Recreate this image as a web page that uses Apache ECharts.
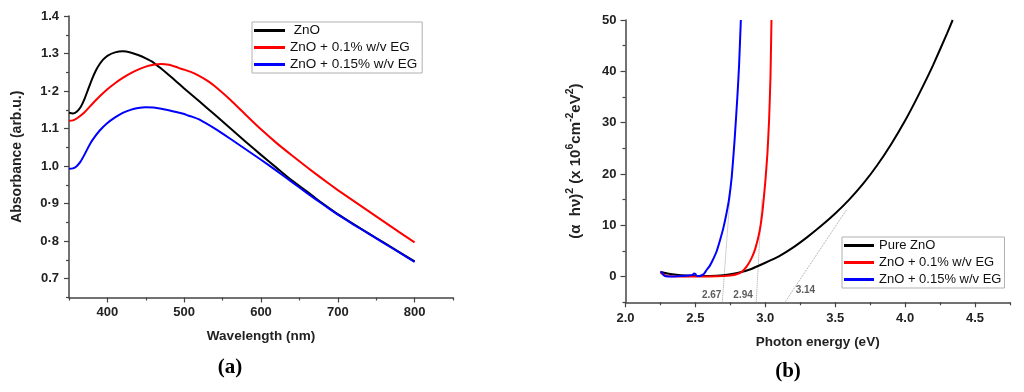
<!DOCTYPE html>
<html><head><meta charset="utf-8">
<script src="https://cdn.jsdelivr.net/npm/echarts@6/dist/echarts.min.js"></script>
<style>html,body{margin:0;padding:0;background:#fff}#c{width:1024px;height:392px}</style>
</head><body><div id="c"></div>
<script>
// ---------- Panel (a): absorbance vs wavelength ----------
const aZnO_x = [350,355,360,365,370,375,380,385,390,395,400,410,420,430,440,450,460,470,480,490,500,520,540,560,580,600,620,640,660,670,680,700,720,740,760,780,800];
const aZnO_y = [1.142,1.140,1.145,1.157,1.178,1.205,1.232,1.255,1.272,1.285,1.294,1.303,1.306,1.303,1.296,1.287,1.276,1.260,1.243,1.225,1.207,1.172,1.137,1.101,1.065,1.030,0.996,0.962,0.932,0.916,0.901,0.872,0.846,0.821,0.796,0.771,0.746];
const aEG1_x = [350,355,360,370,380,390,400,410,420,430,440,450,460,470,480,490,495,500,510,520,530,540,560,580,600,620,640,660,680,700,720,740,760,780,800];
const aEG1_y = [1.121,1.122,1.127,1.143,1.165,1.186,1.205,1.221,1.235,1.247,1.257,1.265,1.270,1.272,1.270,1.264,1.260,1.257,1.250,1.240,1.228,1.213,1.177,1.137,1.098,1.062,1.029,0.997,0.966,0.936,0.908,0.880,0.852,0.824,0.797];
const aEG2_x = [350,355,360,365,370,375,380,390,400,410,420,430,440,450,460,470,480,490,500,505,510,520,540,560,580,600,620,640,660,680,700,720,740,760,780,800];
const aEG2_y = [0.993,0.994,1.000,1.012,1.030,1.050,1.068,1.095,1.115,1.130,1.142,1.150,1.155,1.157,1.156,1.153,1.149,1.144,1.139,1.135,1.132,1.124,1.100,1.073,1.045,1.017,0.988,0.958,0.928,0.899,0.871,0.845,0.820,0.795,0.770,0.745];
const aXTicks = [400,500,600,700,800];
const aXMinor = [350,450,550,650,750,850];
const aYTicks = [0.7,0.8,0.9,1.0,1.1,1.2,1.3,1.4];
const aYTickLabels = ['0.7','0·8','0·9','1.0','1.1','1·2','1.3','1.4'];
const aYMinor = [0.65,0.75,0.85,0.95,1.05,1.15,1.25,1.35];
const aNames = ['ZnO','ZnO + 0.1% w/v EG','ZnO + 0.15% w/v EG'];

// ---------- Panel (b): Tauc plot ----------
const bZnO_x = [2.25,2.3,2.35,2.4,2.5,2.6,2.7,2.8,2.9,3.0,3.1,3.2,3.3,3.4,3.5,3.6,3.7,3.8,3.9,4.0,4.1,4.2,4.3,4.34];
const bZnO_y = [0.9,0.6,0.4,0.25,0.1,0.1,0.25,0.7,1.5,2.7,4.0,5.7,7.7,9.9,12.3,15.0,18.1,21.7,25.8,30.4,35.6,41.2,47.4,50];
const bEG1_x = [2.25,2.26,2.28,2.3,2.4,2.5,2.6,2.7,2.75,2.8,2.83,2.866,2.9,2.93,2.96,2.98,3.0,3.015,3.027,3.037,3.044];
const bEG1_y = [0.8,0.6,0.3,0.1,0.05,0.05,0.05,0.1,0.2,0.5,0.9,1.95,3.5,5.6,9.0,12.8,18.5,24,30.5,39,50];
const bEG2_x = [2.25,2.26,2.27,2.28,2.3,2.35,2.4,2.45,2.48,2.49,2.5,2.51,2.53,2.56,2.58,2.6,2.62,2.65,2.675,2.7,2.72,2.74,2.76,2.78,2.8,2.812,2.825];
const bEG2_y = [1.0,0.8,0.4,0.15,0.05,0.05,0.1,0.2,0.35,0.6,0.5,0.1,0.1,0.5,1.3,2.0,3.0,4.8,7.0,9.5,12.0,15.0,19.5,26.5,35,41,50];
const bTangentBlue = [[2.692,-5],[2.75,16.6]];
const bTangentRed = [[2.935,-5],[2.975,15]];
const bTangentBlack = [[3.14,-5],[3.58,13]];
const bGapLabels = ['2.67','2.94','3.14'];
const bGapLabelPos = [[2.616,-3.7],[2.841,-3.7],[3.287,-2.7]];
const bXTicks = [2.0,2.5,3.0,3.5,4.0,4.5];
const bXMinor = [2.25,2.75,3.25,3.75,4.25,4.75];
const bYTicks = [0,10,20,30,40,50];
const bYMinor = [-5,5,15,25,35,45];
const bNames = ['Pure ZnO','ZnO + 0.1% w/v EG','ZnO + 0.15% w/v EG'];

const colors = ['#000000','#ff0000','#0000ff'];
const zip = (xs, ys) => xs.map((x, i) => [x, ys[i]]);

const axisCol = '#444';
const FF = 'Liberation Sans, Arial, sans-serif';
const lblFont = {fontFamily:FF, fontWeight:'bold', fontSize:13, color:'#222'};

function majorX(grid, min, max, ticks, fmt, name, nameGap, margin) {
  return {type:'value', gridIndex:grid, min, max, position:'bottom',
    axisLine:{show:true, onZero:false, lineStyle:{color:axisCol, width:1.5}},
    axisTick:{show:true, customValues:ticks, length:5, lineStyle:{color:axisCol, width:1.2}},
    axisLabel:Object.assign({show:true, customValues:ticks, margin, formatter:fmt}, lblFont),
    splitLine:{show:false}, name, nameLocation:'middle', nameGap,
    nameTextStyle:Object.assign({}, lblFont, {fontSize:13.5})};
}
function minorX(grid, min, max, ticks) {
  return {type:'value', gridIndex:grid, min, max, position:'bottom', offset:0,
    axisLine:{show:false, onZero:false}, axisLabel:{show:false}, splitLine:{show:false},
    axisTick:{show:true, customValues:ticks, length:3, lineStyle:{color:axisCol, width:1.2}}};
}
function majorY(grid, min, max, ticks, fmt, name, nameGap, margin, nts) {
  return {type:'value', gridIndex:grid, min, max, position:'left',
    axisLine:{show:true, onZero:false, lineStyle:{color:axisCol, width:1.5}},
    axisTick:{show:true, customValues:ticks, length:5, lineStyle:{color:axisCol, width:1.2}},
    axisLabel:Object.assign({show:true, customValues:ticks, margin, formatter:fmt}, lblFont),
    splitLine:{show:false}, name, nameLocation:'middle', nameGap,
    nameTextStyle:nts};
}
function minorY(grid, min, max, ticks) {
  return {type:'value', gridIndex:grid, min, max, position:'left', offset:0,
    axisLine:{show:false, onZero:false}, axisLabel:{show:false}, splitLine:{show:false},
    axisTick:{show:true, customValues:ticks, length:3, lineStyle:{color:axisCol, width:1.2}}};
}

const supName = '{n|(α  hν)}{s|2}{n| (x 10}{s|6}{n|cm}{s|-2}{n|eV}{s|2}{n|)}';

const lineSeries = (name, xi, yi, data, color) => ({
  type:'line', name, xAxisIndex:xi, yAxisIndex:yi, data, showSymbol:false, symbol:'none',
  lineStyle:{color, width:2}, itemStyle:{color}, smooth:0.15,
  animation:false, silent:true, z:3
});
const tangent = (xi, yi, data) => ({
  type:'line', xAxisIndex:xi, yAxisIndex:yi, data, symbol:'none', silent:true, animation:false,
  lineStyle:{color:'#a0a0a0', width:1, type:'dotted'}, z:2
});

const option = {
  animation:false,
  backgroundColor:'#fff',
  grid:[
    {left:69, top:16, width:384, height:281.5},
    {left:625.5, top:20, width:384.5, height:282.3}
  ],
  xAxis:[
    majorX(0, 350, 850, aXTicks, v => String(v), 'Wavelength (nm)', 32, 8),
    minorX(0, 350, 850, aXMinor),
    majorX(1, 2.0, 4.75, bXTicks, v => v.toFixed(1), 'Photon energy (eV)', 33, 10),
    minorX(1, 2.0, 4.75, bXMinor)
  ],
  yAxis:[
    majorY(0, 0.65, 1.4, aYTicks, v => aYTickLabels[aYTicks.findIndex(t => Math.abs(t - v) < 1e-6)],
      'Absorbance (arb.u.)', 45, 10, Object.assign({}, lblFont, {fontSize:14})),
    minorY(0, 0.65, 1.4, aYMinor),
    majorY(1, -5, 50, bYTicks, v => String(v), supName, 39, 9, {
      rich:{
        n:{fontFamily:FF, fontWeight:'bold', fontSize:15, color:'#222', lineHeight:22},
        s:{fontFamily:FF, fontWeight:'bold', fontSize:10.5, color:'#222', lineHeight:11, verticalAlign:'top'}
      }}),
    minorY(1, -5, 50, bYMinor)
  ],
  legend:[
    {data:aNames, left:252, top:22, orient:'vertical', icon:'rect', itemWidth:31, itemHeight:3, itemGap:2,
     padding:[1,5,1,2], borderColor:'#b0b0b0', borderWidth:1, backgroundColor:'#fff',
     formatter: n => n === 'ZnO' ? ' ZnO' : n,
     textStyle:{fontFamily:FF, fontSize:13.5, color:'#111', lineHeight:15}},
    {data:bNames, left:842, top:237, orient:'vertical', icon:'rect', itemWidth:30, itemHeight:3, itemGap:2,
     padding:[1,3,1,2], borderColor:'#b0b0b0', borderWidth:1, backgroundColor:'#fff',
     textStyle:{fontFamily:FF, fontSize:13, color:'#111', lineHeight:15}}
  ],
  series:[
    lineSeries(aNames[0], 0, 0, zip(aZnO_x, aZnO_y), colors[0]),
    lineSeries(aNames[1], 0, 0, zip(aEG1_x, aEG1_y), colors[1]),
    lineSeries(aNames[2], 0, 0, zip(aEG2_x, aEG2_y), colors[2]),
    tangent(2, 2, bTangentBlue),
    tangent(2, 2, bTangentRed),
    tangent(2, 2, bTangentBlack),
    lineSeries(bNames[0], 2, 2, zip(bZnO_x, bZnO_y), colors[0]),
    lineSeries(bNames[1], 2, 2, zip(bEG1_x, bEG1_y), colors[1]),
    lineSeries(bNames[2], 2, 2, zip(bEG2_x, bEG2_y), colors[2]),
    {type:'scatter', xAxisIndex:2, yAxisIndex:2, symbolSize:0, silent:true, animation:false,
     itemStyle:{color:'transparent'}, z:5,
     data: bGapLabelPos.map((p, i) => ({value:p, label:{formatter:bGapLabels[i]}})),
     label:{show:true, position:'inside', fontFamily:FF, fontWeight:'bold', fontSize:10, color:'#333'}}
  ],
  graphic:[
    {type:'text', x:230, y:368, style:{text:'(a)', font:'bold 21px "Liberation Serif", "DejaVu Serif", serif', fill:'#000', textAlign:'center', textVerticalAlign:'middle'}},
    {type:'text', x:788, y:372, style:{text:'(b)', font:'bold 21px "Liberation Serif", "DejaVu Serif", serif', fill:'#000', textAlign:'center', textVerticalAlign:'middle'}}
  ]
};
const chart = echarts.init(document.getElementById('c'), null, {renderer:'canvas'});
chart.setOption(option);
</script></body></html>
